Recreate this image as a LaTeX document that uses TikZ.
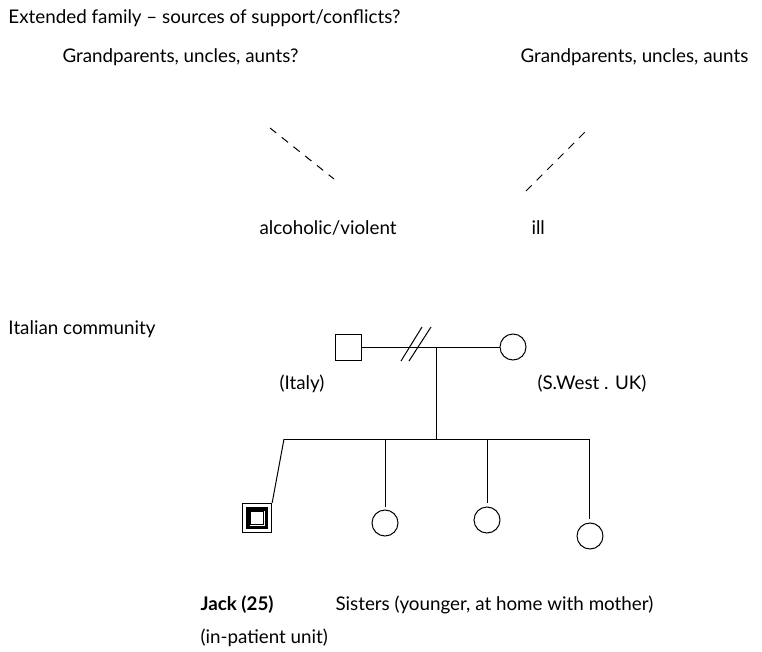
\documentclass[tikz,border=0pt]{standalone}
\usepackage{fontspec}
\setmainfont{Lato}
\begin{document}
\begin{tikzpicture}[x=1pt,y=-1pt,line width=1pt,
  lbl/.style={anchor=base west,inner sep=0pt,font=\fontsize{18.8}{22}\selectfont},
  kin/.style={draw,line width=1pt},
  dashlink/.style={draw,line width=1pt,dash pattern=on 8pt off 7pt}]
\useasboundingbox (0,0) rectangle (762,652);

% headings and labels
\node[lbl] (title) at (8,24) {Extended family -- sources of support/conflicts?};
\node[lbl] (gpL) at (62,63) {Grandparents, uncles, aunts?};
\node[lbl] (gpR) at (520,63) {Grandparents, uncles, aunts};
\node[lbl] (alc) at (259,234) {alcoholic/violent};
\node[lbl] (ill) at (531,234) {ill};
\node[lbl] (ital) at (8,334) {Italian community};
\node[lbl] (italy) at (279,389) {(Italy)};
\node[lbl] (swuk) at (537,389) {(S.West . UK)};
\node[lbl,font=\fontsize{18.8}{22}\selectfont\bfseries] (jack) at (200,610) {Jack (25)};
\node[lbl] (sis) at (335,610) {Sisters (younger, at home with mother)};
\node[lbl] (unit) at (200,643) {(in-patient unit)};

% dashed links to the extended family
\coordinate (dl1) at (270,128);
\coordinate (dl2) at (334,179);
\coordinate (dr1) at (526,191);
\coordinate (dr2) at (589,128);
\draw[dashlink] (dl1) -- (dl2);
\draw[dashlink] (dr1) -- (dr2);

% parents
\node[kin,minimum size=26pt,inner sep=0pt] (father) at (348,347) {};
\node[kin,circle,minimum size=26pt,inner sep=0pt] (mother) at (513,347) {};
\draw (father.east) -- (mother.west);
\coordinate (s1a) at (401,361); \coordinate (s1b) at (422,327);
\coordinate (s2a) at (409,361); \coordinate (s2b) at (431,327);
\draw (s1a) -- (s1b);
\draw (s2a) -- (s2b);

% children
\coordinate (drop) at (436,347);
\coordinate (sib) at (436,439);
\coordinate (sibL) at (284,439);
\coordinate (sibR) at (589,439);
\draw (drop) -- (sib);
\draw (sibL) -- (sibR);

% Jack: index person in care
\node[draw,line width=1.3pt,minimum size=29pt,inner sep=0pt] (jackbox) at (257,518) {};
\node[draw,line width=3.5pt,minimum size=18.5pt,inner sep=0pt] at (jackbox) {};
\node[draw,line width=1pt,minimum size=12.5pt,inner sep=0pt] at (jackbox) {};
\draw (sibL) -- (jackbox.north east);

% sisters
\node[kin,circle,minimum size=26pt,inner sep=0pt] (sis1) at (385,523) {};
\node[kin,circle,minimum size=26pt,inner sep=0pt] (sis2) at (487,520) {};
\node[kin,circle,minimum size=26pt,inner sep=0pt] (sis3) at (590,536) {};
\coordinate (t1) at (385,439); \coordinate (e1) at (385,507);
\coordinate (t2) at (487,439); \coordinate (e2) at (487,503);
\coordinate (t3) at (589,439); \coordinate (e3) at (589,519);
\draw (t1) -- (e1);
\draw (t2) -- (e2);
\draw (t3) -- (e3);
\end{tikzpicture}
\end{document}
